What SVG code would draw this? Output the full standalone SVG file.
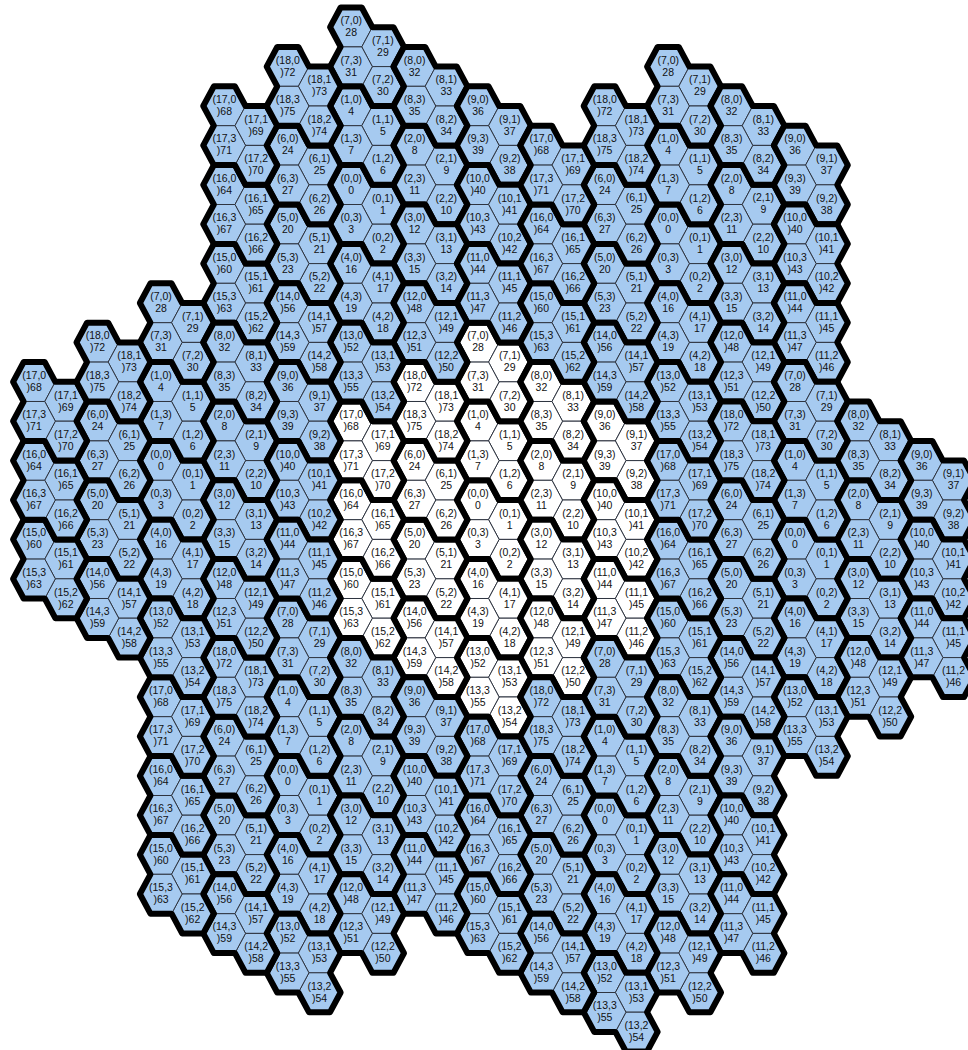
<svg xmlns="http://www.w3.org/2000/svg" xmlns:xlink="http://www.w3.org/1999/xlink" width="968" height="1050" viewBox="0 0 968 1050">
<style>
text{font-family:"Liberation Sans",Arial,sans-serif;font-size:10.5px;text-anchor:middle;fill:#111}
.w{fill:#ffffff}.b{fill:#a6caf0}
</style>
<defs>
<polygon id="h" points="-21.13,0 -10.57,-19.7 10.57,-19.7 21.13,0 10.57,19.7 -10.57,19.7" stroke="#2e3440" stroke-width="1"/>
<path id="o" d="M-21.13,0L-10.57,-19.7L10.57,-19.7L21.13,0L42.27,0L52.83,19.7L42.27,39.4L52.83,59.1L42.27,78.8L21.13,78.8L10.57,59.1L-10.57,59.1L-21.13,39.4L-10.57,19.7Z" fill="none" stroke="#000" stroke-width="6" stroke-linejoin="round"/>
</defs>
<rect width="968" height="1050" fill="#fff"/>
<g id="tile0" class="w" transform="translate(478 500)">
<g id="g0-0"><g id="n0-0-0"><use href="#h"/><text y="-3">(0,0)<tspan x="0" y="9">0</tspan></text></g><g id="n0-0-1" transform="translate(31.7 19.7)"><use href="#h"/><text y="-3">(0,1)<tspan x="0" y="9">1</tspan></text></g><g id="n0-0-2" transform="translate(31.7 59.1)"><use href="#h"/><text y="-3">(0,2)<tspan x="0" y="9">2</tspan></text></g><g id="n0-0-3" transform="translate(0 39.4)"><use href="#h"/><text y="-3">(0,3)<tspan x="0" y="9">3</tspan></text></g><use href="#o"/></g>
<g id="g0-1" transform="translate(0 -78.8)"><g id="n0-1-0"><use href="#h"/><text y="-3">(1,0)<tspan x="0" y="9">4</tspan></text></g><g id="n0-1-1" transform="translate(31.7 19.7)"><use href="#h"/><text y="-3">(1,1)<tspan x="0" y="9">5</tspan></text></g><g id="n0-1-2" transform="translate(31.7 59.1)"><use href="#h"/><text y="-3">(1,2)<tspan x="0" y="9">6</tspan></text></g><g id="n0-1-3" transform="translate(0 39.4)"><use href="#h"/><text y="-3">(1,3)<tspan x="0" y="9">7</tspan></text></g><use href="#o"/></g>
<g id="g0-2" transform="translate(63.4 -39.4)"><g id="n0-2-0"><use href="#h"/><text y="-3">(2,0)<tspan x="0" y="9">8</tspan></text></g><g id="n0-2-1" transform="translate(31.7 19.7)"><use href="#h"/><text y="-3">(2,1)<tspan x="0" y="9">9</tspan></text></g><g id="n0-2-2" transform="translate(31.7 59.1)"><use href="#h"/><text y="-3">(2,2)<tspan x="0" y="9">10</tspan></text></g><g id="n0-2-3" transform="translate(0 39.4)"><use href="#h"/><text y="-3">(2,3)<tspan x="0" y="9">11</tspan></text></g><use href="#o"/></g>
<g id="g0-3" transform="translate(63.4 39.4)"><g id="n0-3-0"><use href="#h"/><text y="-3">(3,0)<tspan x="0" y="9">12</tspan></text></g><g id="n0-3-1" transform="translate(31.7 19.7)"><use href="#h"/><text y="-3">(3,1)<tspan x="0" y="9">13</tspan></text></g><g id="n0-3-2" transform="translate(31.7 59.1)"><use href="#h"/><text y="-3">(3,2)<tspan x="0" y="9">14</tspan></text></g><g id="n0-3-3" transform="translate(0 39.4)"><use href="#h"/><text y="-3">(3,3)<tspan x="0" y="9">15</tspan></text></g><use href="#o"/></g>
<g id="g0-4" transform="translate(0 78.8)"><g id="n0-4-0"><use href="#h"/><text y="-3">(4,0)<tspan x="0" y="9">16</tspan></text></g><g id="n0-4-1" transform="translate(31.7 19.7)"><use href="#h"/><text y="-3">(4,1)<tspan x="0" y="9">17</tspan></text></g><g id="n0-4-2" transform="translate(31.7 59.1)"><use href="#h"/><text y="-3">(4,2)<tspan x="0" y="9">18</tspan></text></g><g id="n0-4-3" transform="translate(0 39.4)"><use href="#h"/><text y="-3">(4,3)<tspan x="0" y="9">19</tspan></text></g><use href="#o"/></g>
<g id="g0-5" transform="translate(-63.4 39.4)"><g id="n0-5-0"><use href="#h"/><text y="-3">(5,0)<tspan x="0" y="9">20</tspan></text></g><g id="n0-5-1" transform="translate(31.7 19.7)"><use href="#h"/><text y="-3">(5,1)<tspan x="0" y="9">21</tspan></text></g><g id="n0-5-2" transform="translate(31.7 59.1)"><use href="#h"/><text y="-3">(5,2)<tspan x="0" y="9">22</tspan></text></g><g id="n0-5-3" transform="translate(0 39.4)"><use href="#h"/><text y="-3">(5,3)<tspan x="0" y="9">23</tspan></text></g><use href="#o"/></g>
<g id="g0-6" transform="translate(-63.4 -39.4)"><g id="n0-6-0"><use href="#h"/><text y="-3">(6,0)<tspan x="0" y="9">24</tspan></text></g><g id="n0-6-1" transform="translate(31.7 19.7)"><use href="#h"/><text y="-3">(6,1)<tspan x="0" y="9">25</tspan></text></g><g id="n0-6-2" transform="translate(31.7 59.1)"><use href="#h"/><text y="-3">(6,2)<tspan x="0" y="9">26</tspan></text></g><g id="n0-6-3" transform="translate(0 39.4)"><use href="#h"/><text y="-3">(6,3)<tspan x="0" y="9">27</tspan></text></g><use href="#o"/></g>
<g id="g0-7" transform="translate(0 -157.6)"><g id="n0-7-0"><use href="#h"/><text y="-3">(7,0)<tspan x="0" y="9">28</tspan></text></g><g id="n0-7-1" transform="translate(31.7 19.7)"><use href="#h"/><text y="-3">(7,1)<tspan x="0" y="9">29</tspan></text></g><g id="n0-7-2" transform="translate(31.7 59.1)"><use href="#h"/><text y="-3">(7,2)<tspan x="0" y="9">30</tspan></text></g><g id="n0-7-3" transform="translate(0 39.4)"><use href="#h"/><text y="-3">(7,3)<tspan x="0" y="9">31</tspan></text></g><use href="#o"/></g>
<g id="g0-8" transform="translate(63.4 -118.2)"><g id="n0-8-0"><use href="#h"/><text y="-3">(8,0)<tspan x="0" y="9">32</tspan></text></g><g id="n0-8-1" transform="translate(31.7 19.7)"><use href="#h"/><text y="-3">(8,1)<tspan x="0" y="9">33</tspan></text></g><g id="n0-8-2" transform="translate(31.7 59.1)"><use href="#h"/><text y="-3">(8,2)<tspan x="0" y="9">34</tspan></text></g><g id="n0-8-3" transform="translate(0 39.4)"><use href="#h"/><text y="-3">(8,3)<tspan x="0" y="9">35</tspan></text></g><use href="#o"/></g>
<g id="g0-9" transform="translate(126.8 -78.8)"><g id="n0-9-0"><use href="#h"/><text y="-3">(9,0)<tspan x="0" y="9">36</tspan></text></g><g id="n0-9-1" transform="translate(31.7 19.7)"><use href="#h"/><text y="-3">(9,1)<tspan x="0" y="9">37</tspan></text></g><g id="n0-9-2" transform="translate(31.7 59.1)"><use href="#h"/><text y="-3">(9,2)<tspan x="0" y="9">38</tspan></text></g><g id="n0-9-3" transform="translate(0 39.4)"><use href="#h"/><text y="-3">(9,3)<tspan x="0" y="9">39</tspan></text></g><use href="#o"/></g>
<g id="g0-10" transform="translate(126.8 0)"><g id="n0-10-0"><use href="#h"/><text y="-3">(10,0<tspan x="0" y="9">)40</tspan></text></g><g id="n0-10-1" transform="translate(31.7 19.7)"><use href="#h"/><text y="-3">(10,1<tspan x="0" y="9">)41</tspan></text></g><g id="n0-10-2" transform="translate(31.7 59.1)"><use href="#h"/><text y="-3">(10,2<tspan x="0" y="9">)42</tspan></text></g><g id="n0-10-3" transform="translate(0 39.4)"><use href="#h"/><text y="-3">(10,3<tspan x="0" y="9">)43</tspan></text></g><use href="#o"/></g>
<g id="g0-11" transform="translate(126.8 78.8)"><g id="n0-11-0"><use href="#h"/><text y="-3">(11,0<tspan x="0" y="9">)44</tspan></text></g><g id="n0-11-1" transform="translate(31.7 19.7)"><use href="#h"/><text y="-3">(11,1<tspan x="0" y="9">)45</tspan></text></g><g id="n0-11-2" transform="translate(31.7 59.1)"><use href="#h"/><text y="-3">(11,2<tspan x="0" y="9">)46</tspan></text></g><g id="n0-11-3" transform="translate(0 39.4)"><use href="#h"/><text y="-3">(11,3<tspan x="0" y="9">)47</tspan></text></g><use href="#o"/></g>
<g id="g0-12" transform="translate(63.4 118.2)"><g id="n0-12-0"><use href="#h"/><text y="-3">(12,0<tspan x="0" y="9">)48</tspan></text></g><g id="n0-12-1" transform="translate(31.7 19.7)"><use href="#h"/><text y="-3">(12,1<tspan x="0" y="9">)49</tspan></text></g><g id="n0-12-2" transform="translate(31.7 59.1)"><use href="#h"/><text y="-3">(12,2<tspan x="0" y="9">)50</tspan></text></g><g id="n0-12-3" transform="translate(0 39.4)"><use href="#h"/><text y="-3">(12,3<tspan x="0" y="9">)51</tspan></text></g><use href="#o"/></g>
<g id="g0-13" transform="translate(0 157.6)"><g id="n0-13-0"><use href="#h"/><text y="-3">(13,0<tspan x="0" y="9">)52</tspan></text></g><g id="n0-13-1" transform="translate(31.7 19.7)"><use href="#h"/><text y="-3">(13,1<tspan x="0" y="9">)53</tspan></text></g><g id="n0-13-2" transform="translate(31.7 59.1)"><use href="#h"/><text y="-3">(13,2<tspan x="0" y="9">)54</tspan></text></g><g id="n0-13-3" transform="translate(0 39.4)"><use href="#h"/><text y="-3">(13,3<tspan x="0" y="9">)55</tspan></text></g><use href="#o"/></g>
<g id="g0-14" transform="translate(-63.4 118.2)"><g id="n0-14-0"><use href="#h"/><text y="-3">(14,0<tspan x="0" y="9">)56</tspan></text></g><g id="n0-14-1" transform="translate(31.7 19.7)"><use href="#h"/><text y="-3">(14,1<tspan x="0" y="9">)57</tspan></text></g><g id="n0-14-2" transform="translate(31.7 59.1)"><use href="#h"/><text y="-3">(14,2<tspan x="0" y="9">)58</tspan></text></g><g id="n0-14-3" transform="translate(0 39.4)"><use href="#h"/><text y="-3">(14,3<tspan x="0" y="9">)59</tspan></text></g><use href="#o"/></g>
<g id="g0-15" transform="translate(-126.8 78.8)"><g id="n0-15-0"><use href="#h"/><text y="-3">(15,0<tspan x="0" y="9">)60</tspan></text></g><g id="n0-15-1" transform="translate(31.7 19.7)"><use href="#h"/><text y="-3">(15,1<tspan x="0" y="9">)61</tspan></text></g><g id="n0-15-2" transform="translate(31.7 59.1)"><use href="#h"/><text y="-3">(15,2<tspan x="0" y="9">)62</tspan></text></g><g id="n0-15-3" transform="translate(0 39.4)"><use href="#h"/><text y="-3">(15,3<tspan x="0" y="9">)63</tspan></text></g><use href="#o"/></g>
<g id="g0-16" transform="translate(-126.8 0)"><g id="n0-16-0"><use href="#h"/><text y="-3">(16,0<tspan x="0" y="9">)64</tspan></text></g><g id="n0-16-1" transform="translate(31.7 19.7)"><use href="#h"/><text y="-3">(16,1<tspan x="0" y="9">)65</tspan></text></g><g id="n0-16-2" transform="translate(31.7 59.1)"><use href="#h"/><text y="-3">(16,2<tspan x="0" y="9">)66</tspan></text></g><g id="n0-16-3" transform="translate(0 39.4)"><use href="#h"/><text y="-3">(16,3<tspan x="0" y="9">)67</tspan></text></g><use href="#o"/></g>
<g id="g0-17" transform="translate(-126.8 -78.8)"><g id="n0-17-0"><use href="#h"/><text y="-3">(17,0<tspan x="0" y="9">)68</tspan></text></g><g id="n0-17-1" transform="translate(31.7 19.7)"><use href="#h"/><text y="-3">(17,1<tspan x="0" y="9">)69</tspan></text></g><g id="n0-17-2" transform="translate(31.7 59.1)"><use href="#h"/><text y="-3">(17,2<tspan x="0" y="9">)70</tspan></text></g><g id="n0-17-3" transform="translate(0 39.4)"><use href="#h"/><text y="-3">(17,3<tspan x="0" y="9">)71</tspan></text></g><use href="#o"/></g>
<g id="g0-18" transform="translate(-63.4 -118.2)"><g id="n0-18-0"><use href="#h"/><text y="-3">(18,0<tspan x="0" y="9">)72</tspan></text></g><g id="n0-18-1" transform="translate(31.7 19.7)"><use href="#h"/><text y="-3">(18,1<tspan x="0" y="9">)73</tspan></text></g><g id="n0-18-2" transform="translate(31.7 59.1)"><use href="#h"/><text y="-3">(18,2<tspan x="0" y="9">)74</tspan></text></g><g id="n0-18-3" transform="translate(0 39.4)"><use href="#h"/><text y="-3">(18,3<tspan x="0" y="9">)75</tspan></text></g><use href="#o"/></g>
</g>
<g id="tile1" class="b" transform="translate(351.2 184.8)">
<g id="g1-0"><g id="n1-0-0"><use href="#h"/><text y="-3">(0,0)<tspan x="0" y="9">0</tspan></text></g><g id="n1-0-1" transform="translate(31.7 19.7)"><use href="#h"/><text y="-3">(0,1)<tspan x="0" y="9">1</tspan></text></g><g id="n1-0-2" transform="translate(31.7 59.1)"><use href="#h"/><text y="-3">(0,2)<tspan x="0" y="9">2</tspan></text></g><g id="n1-0-3" transform="translate(0 39.4)"><use href="#h"/><text y="-3">(0,3)<tspan x="0" y="9">3</tspan></text></g><use href="#o"/></g>
<g id="g1-1" transform="translate(0 -78.8)"><g id="n1-1-0"><use href="#h"/><text y="-3">(1,0)<tspan x="0" y="9">4</tspan></text></g><g id="n1-1-1" transform="translate(31.7 19.7)"><use href="#h"/><text y="-3">(1,1)<tspan x="0" y="9">5</tspan></text></g><g id="n1-1-2" transform="translate(31.7 59.1)"><use href="#h"/><text y="-3">(1,2)<tspan x="0" y="9">6</tspan></text></g><g id="n1-1-3" transform="translate(0 39.4)"><use href="#h"/><text y="-3">(1,3)<tspan x="0" y="9">7</tspan></text></g><use href="#o"/></g>
<g id="g1-2" transform="translate(63.4 -39.4)"><g id="n1-2-0"><use href="#h"/><text y="-3">(2,0)<tspan x="0" y="9">8</tspan></text></g><g id="n1-2-1" transform="translate(31.7 19.7)"><use href="#h"/><text y="-3">(2,1)<tspan x="0" y="9">9</tspan></text></g><g id="n1-2-2" transform="translate(31.7 59.1)"><use href="#h"/><text y="-3">(2,2)<tspan x="0" y="9">10</tspan></text></g><g id="n1-2-3" transform="translate(0 39.4)"><use href="#h"/><text y="-3">(2,3)<tspan x="0" y="9">11</tspan></text></g><use href="#o"/></g>
<g id="g1-3" transform="translate(63.4 39.4)"><g id="n1-3-0"><use href="#h"/><text y="-3">(3,0)<tspan x="0" y="9">12</tspan></text></g><g id="n1-3-1" transform="translate(31.7 19.7)"><use href="#h"/><text y="-3">(3,1)<tspan x="0" y="9">13</tspan></text></g><g id="n1-3-2" transform="translate(31.7 59.1)"><use href="#h"/><text y="-3">(3,2)<tspan x="0" y="9">14</tspan></text></g><g id="n1-3-3" transform="translate(0 39.4)"><use href="#h"/><text y="-3">(3,3)<tspan x="0" y="9">15</tspan></text></g><use href="#o"/></g>
<g id="g1-4" transform="translate(0 78.8)"><g id="n1-4-0"><use href="#h"/><text y="-3">(4,0)<tspan x="0" y="9">16</tspan></text></g><g id="n1-4-1" transform="translate(31.7 19.7)"><use href="#h"/><text y="-3">(4,1)<tspan x="0" y="9">17</tspan></text></g><g id="n1-4-2" transform="translate(31.7 59.1)"><use href="#h"/><text y="-3">(4,2)<tspan x="0" y="9">18</tspan></text></g><g id="n1-4-3" transform="translate(0 39.4)"><use href="#h"/><text y="-3">(4,3)<tspan x="0" y="9">19</tspan></text></g><use href="#o"/></g>
<g id="g1-5" transform="translate(-63.4 39.4)"><g id="n1-5-0"><use href="#h"/><text y="-3">(5,0)<tspan x="0" y="9">20</tspan></text></g><g id="n1-5-1" transform="translate(31.7 19.7)"><use href="#h"/><text y="-3">(5,1)<tspan x="0" y="9">21</tspan></text></g><g id="n1-5-2" transform="translate(31.7 59.1)"><use href="#h"/><text y="-3">(5,2)<tspan x="0" y="9">22</tspan></text></g><g id="n1-5-3" transform="translate(0 39.4)"><use href="#h"/><text y="-3">(5,3)<tspan x="0" y="9">23</tspan></text></g><use href="#o"/></g>
<g id="g1-6" transform="translate(-63.4 -39.4)"><g id="n1-6-0"><use href="#h"/><text y="-3">(6,0)<tspan x="0" y="9">24</tspan></text></g><g id="n1-6-1" transform="translate(31.7 19.7)"><use href="#h"/><text y="-3">(6,1)<tspan x="0" y="9">25</tspan></text></g><g id="n1-6-2" transform="translate(31.7 59.1)"><use href="#h"/><text y="-3">(6,2)<tspan x="0" y="9">26</tspan></text></g><g id="n1-6-3" transform="translate(0 39.4)"><use href="#h"/><text y="-3">(6,3)<tspan x="0" y="9">27</tspan></text></g><use href="#o"/></g>
<g id="g1-7" transform="translate(0 -157.6)"><g id="n1-7-0"><use href="#h"/><text y="-3">(7,0)<tspan x="0" y="9">28</tspan></text></g><g id="n1-7-1" transform="translate(31.7 19.7)"><use href="#h"/><text y="-3">(7,1)<tspan x="0" y="9">29</tspan></text></g><g id="n1-7-2" transform="translate(31.7 59.1)"><use href="#h"/><text y="-3">(7,2)<tspan x="0" y="9">30</tspan></text></g><g id="n1-7-3" transform="translate(0 39.4)"><use href="#h"/><text y="-3">(7,3)<tspan x="0" y="9">31</tspan></text></g><use href="#o"/></g>
<g id="g1-8" transform="translate(63.4 -118.2)"><g id="n1-8-0"><use href="#h"/><text y="-3">(8,0)<tspan x="0" y="9">32</tspan></text></g><g id="n1-8-1" transform="translate(31.7 19.7)"><use href="#h"/><text y="-3">(8,1)<tspan x="0" y="9">33</tspan></text></g><g id="n1-8-2" transform="translate(31.7 59.1)"><use href="#h"/><text y="-3">(8,2)<tspan x="0" y="9">34</tspan></text></g><g id="n1-8-3" transform="translate(0 39.4)"><use href="#h"/><text y="-3">(8,3)<tspan x="0" y="9">35</tspan></text></g><use href="#o"/></g>
<g id="g1-9" transform="translate(126.8 -78.8)"><g id="n1-9-0"><use href="#h"/><text y="-3">(9,0)<tspan x="0" y="9">36</tspan></text></g><g id="n1-9-1" transform="translate(31.7 19.7)"><use href="#h"/><text y="-3">(9,1)<tspan x="0" y="9">37</tspan></text></g><g id="n1-9-2" transform="translate(31.7 59.1)"><use href="#h"/><text y="-3">(9,2)<tspan x="0" y="9">38</tspan></text></g><g id="n1-9-3" transform="translate(0 39.4)"><use href="#h"/><text y="-3">(9,3)<tspan x="0" y="9">39</tspan></text></g><use href="#o"/></g>
<g id="g1-10" transform="translate(126.8 0)"><g id="n1-10-0"><use href="#h"/><text y="-3">(10,0<tspan x="0" y="9">)40</tspan></text></g><g id="n1-10-1" transform="translate(31.7 19.7)"><use href="#h"/><text y="-3">(10,1<tspan x="0" y="9">)41</tspan></text></g><g id="n1-10-2" transform="translate(31.7 59.1)"><use href="#h"/><text y="-3">(10,2<tspan x="0" y="9">)42</tspan></text></g><g id="n1-10-3" transform="translate(0 39.4)"><use href="#h"/><text y="-3">(10,3<tspan x="0" y="9">)43</tspan></text></g><use href="#o"/></g>
<g id="g1-11" transform="translate(126.8 78.8)"><g id="n1-11-0"><use href="#h"/><text y="-3">(11,0<tspan x="0" y="9">)44</tspan></text></g><g id="n1-11-1" transform="translate(31.7 19.7)"><use href="#h"/><text y="-3">(11,1<tspan x="0" y="9">)45</tspan></text></g><g id="n1-11-2" transform="translate(31.7 59.1)"><use href="#h"/><text y="-3">(11,2<tspan x="0" y="9">)46</tspan></text></g><g id="n1-11-3" transform="translate(0 39.4)"><use href="#h"/><text y="-3">(11,3<tspan x="0" y="9">)47</tspan></text></g><use href="#o"/></g>
<g id="g1-12" transform="translate(63.4 118.2)"><g id="n1-12-0"><use href="#h"/><text y="-3">(12,0<tspan x="0" y="9">)48</tspan></text></g><g id="n1-12-1" transform="translate(31.7 19.7)"><use href="#h"/><text y="-3">(12,1<tspan x="0" y="9">)49</tspan></text></g><g id="n1-12-2" transform="translate(31.7 59.1)"><use href="#h"/><text y="-3">(12,2<tspan x="0" y="9">)50</tspan></text></g><g id="n1-12-3" transform="translate(0 39.4)"><use href="#h"/><text y="-3">(12,3<tspan x="0" y="9">)51</tspan></text></g><use href="#o"/></g>
<g id="g1-13" transform="translate(0 157.6)"><g id="n1-13-0"><use href="#h"/><text y="-3">(13,0<tspan x="0" y="9">)52</tspan></text></g><g id="n1-13-1" transform="translate(31.7 19.7)"><use href="#h"/><text y="-3">(13,1<tspan x="0" y="9">)53</tspan></text></g><g id="n1-13-2" transform="translate(31.7 59.1)"><use href="#h"/><text y="-3">(13,2<tspan x="0" y="9">)54</tspan></text></g><g id="n1-13-3" transform="translate(0 39.4)"><use href="#h"/><text y="-3">(13,3<tspan x="0" y="9">)55</tspan></text></g><use href="#o"/></g>
<g id="g1-14" transform="translate(-63.4 118.2)"><g id="n1-14-0"><use href="#h"/><text y="-3">(14,0<tspan x="0" y="9">)56</tspan></text></g><g id="n1-14-1" transform="translate(31.7 19.7)"><use href="#h"/><text y="-3">(14,1<tspan x="0" y="9">)57</tspan></text></g><g id="n1-14-2" transform="translate(31.7 59.1)"><use href="#h"/><text y="-3">(14,2<tspan x="0" y="9">)58</tspan></text></g><g id="n1-14-3" transform="translate(0 39.4)"><use href="#h"/><text y="-3">(14,3<tspan x="0" y="9">)59</tspan></text></g><use href="#o"/></g>
<g id="g1-15" transform="translate(-126.8 78.8)"><g id="n1-15-0"><use href="#h"/><text y="-3">(15,0<tspan x="0" y="9">)60</tspan></text></g><g id="n1-15-1" transform="translate(31.7 19.7)"><use href="#h"/><text y="-3">(15,1<tspan x="0" y="9">)61</tspan></text></g><g id="n1-15-2" transform="translate(31.7 59.1)"><use href="#h"/><text y="-3">(15,2<tspan x="0" y="9">)62</tspan></text></g><g id="n1-15-3" transform="translate(0 39.4)"><use href="#h"/><text y="-3">(15,3<tspan x="0" y="9">)63</tspan></text></g><use href="#o"/></g>
<g id="g1-16" transform="translate(-126.8 0)"><g id="n1-16-0"><use href="#h"/><text y="-3">(16,0<tspan x="0" y="9">)64</tspan></text></g><g id="n1-16-1" transform="translate(31.7 19.7)"><use href="#h"/><text y="-3">(16,1<tspan x="0" y="9">)65</tspan></text></g><g id="n1-16-2" transform="translate(31.7 59.1)"><use href="#h"/><text y="-3">(16,2<tspan x="0" y="9">)66</tspan></text></g><g id="n1-16-3" transform="translate(0 39.4)"><use href="#h"/><text y="-3">(16,3<tspan x="0" y="9">)67</tspan></text></g><use href="#o"/></g>
<g id="g1-17" transform="translate(-126.8 -78.8)"><g id="n1-17-0"><use href="#h"/><text y="-3">(17,0<tspan x="0" y="9">)68</tspan></text></g><g id="n1-17-1" transform="translate(31.7 19.7)"><use href="#h"/><text y="-3">(17,1<tspan x="0" y="9">)69</tspan></text></g><g id="n1-17-2" transform="translate(31.7 59.1)"><use href="#h"/><text y="-3">(17,2<tspan x="0" y="9">)70</tspan></text></g><g id="n1-17-3" transform="translate(0 39.4)"><use href="#h"/><text y="-3">(17,3<tspan x="0" y="9">)71</tspan></text></g><use href="#o"/></g>
<g id="g1-18" transform="translate(-63.4 -118.2)"><g id="n1-18-0"><use href="#h"/><text y="-3">(18,0<tspan x="0" y="9">)72</tspan></text></g><g id="n1-18-1" transform="translate(31.7 19.7)"><use href="#h"/><text y="-3">(18,1<tspan x="0" y="9">)73</tspan></text></g><g id="n1-18-2" transform="translate(31.7 59.1)"><use href="#h"/><text y="-3">(18,2<tspan x="0" y="9">)74</tspan></text></g><g id="n1-18-3" transform="translate(0 39.4)"><use href="#h"/><text y="-3">(18,3<tspan x="0" y="9">)75</tspan></text></g><use href="#o"/></g>
</g>
<g id="tile2" class="b" transform="translate(668.2 224.2)">
<g id="g2-0"><g id="n2-0-0"><use href="#h"/><text y="-3">(0,0)<tspan x="0" y="9">0</tspan></text></g><g id="n2-0-1" transform="translate(31.7 19.7)"><use href="#h"/><text y="-3">(0,1)<tspan x="0" y="9">1</tspan></text></g><g id="n2-0-2" transform="translate(31.7 59.1)"><use href="#h"/><text y="-3">(0,2)<tspan x="0" y="9">2</tspan></text></g><g id="n2-0-3" transform="translate(0 39.4)"><use href="#h"/><text y="-3">(0,3)<tspan x="0" y="9">3</tspan></text></g><use href="#o"/></g>
<g id="g2-1" transform="translate(0 -78.8)"><g id="n2-1-0"><use href="#h"/><text y="-3">(1,0)<tspan x="0" y="9">4</tspan></text></g><g id="n2-1-1" transform="translate(31.7 19.7)"><use href="#h"/><text y="-3">(1,1)<tspan x="0" y="9">5</tspan></text></g><g id="n2-1-2" transform="translate(31.7 59.1)"><use href="#h"/><text y="-3">(1,2)<tspan x="0" y="9">6</tspan></text></g><g id="n2-1-3" transform="translate(0 39.4)"><use href="#h"/><text y="-3">(1,3)<tspan x="0" y="9">7</tspan></text></g><use href="#o"/></g>
<g id="g2-2" transform="translate(63.4 -39.4)"><g id="n2-2-0"><use href="#h"/><text y="-3">(2,0)<tspan x="0" y="9">8</tspan></text></g><g id="n2-2-1" transform="translate(31.7 19.7)"><use href="#h"/><text y="-3">(2,1)<tspan x="0" y="9">9</tspan></text></g><g id="n2-2-2" transform="translate(31.7 59.1)"><use href="#h"/><text y="-3">(2,2)<tspan x="0" y="9">10</tspan></text></g><g id="n2-2-3" transform="translate(0 39.4)"><use href="#h"/><text y="-3">(2,3)<tspan x="0" y="9">11</tspan></text></g><use href="#o"/></g>
<g id="g2-3" transform="translate(63.4 39.4)"><g id="n2-3-0"><use href="#h"/><text y="-3">(3,0)<tspan x="0" y="9">12</tspan></text></g><g id="n2-3-1" transform="translate(31.7 19.7)"><use href="#h"/><text y="-3">(3,1)<tspan x="0" y="9">13</tspan></text></g><g id="n2-3-2" transform="translate(31.7 59.1)"><use href="#h"/><text y="-3">(3,2)<tspan x="0" y="9">14</tspan></text></g><g id="n2-3-3" transform="translate(0 39.4)"><use href="#h"/><text y="-3">(3,3)<tspan x="0" y="9">15</tspan></text></g><use href="#o"/></g>
<g id="g2-4" transform="translate(0 78.8)"><g id="n2-4-0"><use href="#h"/><text y="-3">(4,0)<tspan x="0" y="9">16</tspan></text></g><g id="n2-4-1" transform="translate(31.7 19.7)"><use href="#h"/><text y="-3">(4,1)<tspan x="0" y="9">17</tspan></text></g><g id="n2-4-2" transform="translate(31.7 59.1)"><use href="#h"/><text y="-3">(4,2)<tspan x="0" y="9">18</tspan></text></g><g id="n2-4-3" transform="translate(0 39.4)"><use href="#h"/><text y="-3">(4,3)<tspan x="0" y="9">19</tspan></text></g><use href="#o"/></g>
<g id="g2-5" transform="translate(-63.4 39.4)"><g id="n2-5-0"><use href="#h"/><text y="-3">(5,0)<tspan x="0" y="9">20</tspan></text></g><g id="n2-5-1" transform="translate(31.7 19.7)"><use href="#h"/><text y="-3">(5,1)<tspan x="0" y="9">21</tspan></text></g><g id="n2-5-2" transform="translate(31.7 59.1)"><use href="#h"/><text y="-3">(5,2)<tspan x="0" y="9">22</tspan></text></g><g id="n2-5-3" transform="translate(0 39.4)"><use href="#h"/><text y="-3">(5,3)<tspan x="0" y="9">23</tspan></text></g><use href="#o"/></g>
<g id="g2-6" transform="translate(-63.4 -39.4)"><g id="n2-6-0"><use href="#h"/><text y="-3">(6,0)<tspan x="0" y="9">24</tspan></text></g><g id="n2-6-1" transform="translate(31.7 19.7)"><use href="#h"/><text y="-3">(6,1)<tspan x="0" y="9">25</tspan></text></g><g id="n2-6-2" transform="translate(31.7 59.1)"><use href="#h"/><text y="-3">(6,2)<tspan x="0" y="9">26</tspan></text></g><g id="n2-6-3" transform="translate(0 39.4)"><use href="#h"/><text y="-3">(6,3)<tspan x="0" y="9">27</tspan></text></g><use href="#o"/></g>
<g id="g2-7" transform="translate(0 -157.6)"><g id="n2-7-0"><use href="#h"/><text y="-3">(7,0)<tspan x="0" y="9">28</tspan></text></g><g id="n2-7-1" transform="translate(31.7 19.7)"><use href="#h"/><text y="-3">(7,1)<tspan x="0" y="9">29</tspan></text></g><g id="n2-7-2" transform="translate(31.7 59.1)"><use href="#h"/><text y="-3">(7,2)<tspan x="0" y="9">30</tspan></text></g><g id="n2-7-3" transform="translate(0 39.4)"><use href="#h"/><text y="-3">(7,3)<tspan x="0" y="9">31</tspan></text></g><use href="#o"/></g>
<g id="g2-8" transform="translate(63.4 -118.2)"><g id="n2-8-0"><use href="#h"/><text y="-3">(8,0)<tspan x="0" y="9">32</tspan></text></g><g id="n2-8-1" transform="translate(31.7 19.7)"><use href="#h"/><text y="-3">(8,1)<tspan x="0" y="9">33</tspan></text></g><g id="n2-8-2" transform="translate(31.7 59.1)"><use href="#h"/><text y="-3">(8,2)<tspan x="0" y="9">34</tspan></text></g><g id="n2-8-3" transform="translate(0 39.4)"><use href="#h"/><text y="-3">(8,3)<tspan x="0" y="9">35</tspan></text></g><use href="#o"/></g>
<g id="g2-9" transform="translate(126.8 -78.8)"><g id="n2-9-0"><use href="#h"/><text y="-3">(9,0)<tspan x="0" y="9">36</tspan></text></g><g id="n2-9-1" transform="translate(31.7 19.7)"><use href="#h"/><text y="-3">(9,1)<tspan x="0" y="9">37</tspan></text></g><g id="n2-9-2" transform="translate(31.7 59.1)"><use href="#h"/><text y="-3">(9,2)<tspan x="0" y="9">38</tspan></text></g><g id="n2-9-3" transform="translate(0 39.4)"><use href="#h"/><text y="-3">(9,3)<tspan x="0" y="9">39</tspan></text></g><use href="#o"/></g>
<g id="g2-10" transform="translate(126.8 0)"><g id="n2-10-0"><use href="#h"/><text y="-3">(10,0<tspan x="0" y="9">)40</tspan></text></g><g id="n2-10-1" transform="translate(31.7 19.7)"><use href="#h"/><text y="-3">(10,1<tspan x="0" y="9">)41</tspan></text></g><g id="n2-10-2" transform="translate(31.7 59.1)"><use href="#h"/><text y="-3">(10,2<tspan x="0" y="9">)42</tspan></text></g><g id="n2-10-3" transform="translate(0 39.4)"><use href="#h"/><text y="-3">(10,3<tspan x="0" y="9">)43</tspan></text></g><use href="#o"/></g>
<g id="g2-11" transform="translate(126.8 78.8)"><g id="n2-11-0"><use href="#h"/><text y="-3">(11,0<tspan x="0" y="9">)44</tspan></text></g><g id="n2-11-1" transform="translate(31.7 19.7)"><use href="#h"/><text y="-3">(11,1<tspan x="0" y="9">)45</tspan></text></g><g id="n2-11-2" transform="translate(31.7 59.1)"><use href="#h"/><text y="-3">(11,2<tspan x="0" y="9">)46</tspan></text></g><g id="n2-11-3" transform="translate(0 39.4)"><use href="#h"/><text y="-3">(11,3<tspan x="0" y="9">)47</tspan></text></g><use href="#o"/></g>
<g id="g2-12" transform="translate(63.4 118.2)"><g id="n2-12-0"><use href="#h"/><text y="-3">(12,0<tspan x="0" y="9">)48</tspan></text></g><g id="n2-12-1" transform="translate(31.7 19.7)"><use href="#h"/><text y="-3">(12,1<tspan x="0" y="9">)49</tspan></text></g><g id="n2-12-2" transform="translate(31.7 59.1)"><use href="#h"/><text y="-3">(12,2<tspan x="0" y="9">)50</tspan></text></g><g id="n2-12-3" transform="translate(0 39.4)"><use href="#h"/><text y="-3">(12,3<tspan x="0" y="9">)51</tspan></text></g><use href="#o"/></g>
<g id="g2-13" transform="translate(0 157.6)"><g id="n2-13-0"><use href="#h"/><text y="-3">(13,0<tspan x="0" y="9">)52</tspan></text></g><g id="n2-13-1" transform="translate(31.7 19.7)"><use href="#h"/><text y="-3">(13,1<tspan x="0" y="9">)53</tspan></text></g><g id="n2-13-2" transform="translate(31.7 59.1)"><use href="#h"/><text y="-3">(13,2<tspan x="0" y="9">)54</tspan></text></g><g id="n2-13-3" transform="translate(0 39.4)"><use href="#h"/><text y="-3">(13,3<tspan x="0" y="9">)55</tspan></text></g><use href="#o"/></g>
<g id="g2-14" transform="translate(-63.4 118.2)"><g id="n2-14-0"><use href="#h"/><text y="-3">(14,0<tspan x="0" y="9">)56</tspan></text></g><g id="n2-14-1" transform="translate(31.7 19.7)"><use href="#h"/><text y="-3">(14,1<tspan x="0" y="9">)57</tspan></text></g><g id="n2-14-2" transform="translate(31.7 59.1)"><use href="#h"/><text y="-3">(14,2<tspan x="0" y="9">)58</tspan></text></g><g id="n2-14-3" transform="translate(0 39.4)"><use href="#h"/><text y="-3">(14,3<tspan x="0" y="9">)59</tspan></text></g><use href="#o"/></g>
<g id="g2-15" transform="translate(-126.8 78.8)"><g id="n2-15-0"><use href="#h"/><text y="-3">(15,0<tspan x="0" y="9">)60</tspan></text></g><g id="n2-15-1" transform="translate(31.7 19.7)"><use href="#h"/><text y="-3">(15,1<tspan x="0" y="9">)61</tspan></text></g><g id="n2-15-2" transform="translate(31.7 59.1)"><use href="#h"/><text y="-3">(15,2<tspan x="0" y="9">)62</tspan></text></g><g id="n2-15-3" transform="translate(0 39.4)"><use href="#h"/><text y="-3">(15,3<tspan x="0" y="9">)63</tspan></text></g><use href="#o"/></g>
<g id="g2-16" transform="translate(-126.8 0)"><g id="n2-16-0"><use href="#h"/><text y="-3">(16,0<tspan x="0" y="9">)64</tspan></text></g><g id="n2-16-1" transform="translate(31.7 19.7)"><use href="#h"/><text y="-3">(16,1<tspan x="0" y="9">)65</tspan></text></g><g id="n2-16-2" transform="translate(31.7 59.1)"><use href="#h"/><text y="-3">(16,2<tspan x="0" y="9">)66</tspan></text></g><g id="n2-16-3" transform="translate(0 39.4)"><use href="#h"/><text y="-3">(16,3<tspan x="0" y="9">)67</tspan></text></g><use href="#o"/></g>
<g id="g2-17" transform="translate(-126.8 -78.8)"><g id="n2-17-0"><use href="#h"/><text y="-3">(17,0<tspan x="0" y="9">)68</tspan></text></g><g id="n2-17-1" transform="translate(31.7 19.7)"><use href="#h"/><text y="-3">(17,1<tspan x="0" y="9">)69</tspan></text></g><g id="n2-17-2" transform="translate(31.7 59.1)"><use href="#h"/><text y="-3">(17,2<tspan x="0" y="9">)70</tspan></text></g><g id="n2-17-3" transform="translate(0 39.4)"><use href="#h"/><text y="-3">(17,3<tspan x="0" y="9">)71</tspan></text></g><use href="#o"/></g>
<g id="g2-18" transform="translate(-63.4 -118.2)"><g id="n2-18-0"><use href="#h"/><text y="-3">(18,0<tspan x="0" y="9">)72</tspan></text></g><g id="n2-18-1" transform="translate(31.7 19.7)"><use href="#h"/><text y="-3">(18,1<tspan x="0" y="9">)73</tspan></text></g><g id="n2-18-2" transform="translate(31.7 59.1)"><use href="#h"/><text y="-3">(18,2<tspan x="0" y="9">)74</tspan></text></g><g id="n2-18-3" transform="translate(0 39.4)"><use href="#h"/><text y="-3">(18,3<tspan x="0" y="9">)75</tspan></text></g><use href="#o"/></g>
</g>
<g id="tile3" class="b" transform="translate(795 539.4)">
<g id="g3-0"><g id="n3-0-0"><use href="#h"/><text y="-3">(0,0)<tspan x="0" y="9">0</tspan></text></g><g id="n3-0-1" transform="translate(31.7 19.7)"><use href="#h"/><text y="-3">(0,1)<tspan x="0" y="9">1</tspan></text></g><g id="n3-0-2" transform="translate(31.7 59.1)"><use href="#h"/><text y="-3">(0,2)<tspan x="0" y="9">2</tspan></text></g><g id="n3-0-3" transform="translate(0 39.4)"><use href="#h"/><text y="-3">(0,3)<tspan x="0" y="9">3</tspan></text></g><use href="#o"/></g>
<g id="g3-1" transform="translate(0 -78.8)"><g id="n3-1-0"><use href="#h"/><text y="-3">(1,0)<tspan x="0" y="9">4</tspan></text></g><g id="n3-1-1" transform="translate(31.7 19.7)"><use href="#h"/><text y="-3">(1,1)<tspan x="0" y="9">5</tspan></text></g><g id="n3-1-2" transform="translate(31.7 59.1)"><use href="#h"/><text y="-3">(1,2)<tspan x="0" y="9">6</tspan></text></g><g id="n3-1-3" transform="translate(0 39.4)"><use href="#h"/><text y="-3">(1,3)<tspan x="0" y="9">7</tspan></text></g><use href="#o"/></g>
<g id="g3-2" transform="translate(63.4 -39.4)"><g id="n3-2-0"><use href="#h"/><text y="-3">(2,0)<tspan x="0" y="9">8</tspan></text></g><g id="n3-2-1" transform="translate(31.7 19.7)"><use href="#h"/><text y="-3">(2,1)<tspan x="0" y="9">9</tspan></text></g><g id="n3-2-2" transform="translate(31.7 59.1)"><use href="#h"/><text y="-3">(2,2)<tspan x="0" y="9">10</tspan></text></g><g id="n3-2-3" transform="translate(0 39.4)"><use href="#h"/><text y="-3">(2,3)<tspan x="0" y="9">11</tspan></text></g><use href="#o"/></g>
<g id="g3-3" transform="translate(63.4 39.4)"><g id="n3-3-0"><use href="#h"/><text y="-3">(3,0)<tspan x="0" y="9">12</tspan></text></g><g id="n3-3-1" transform="translate(31.7 19.7)"><use href="#h"/><text y="-3">(3,1)<tspan x="0" y="9">13</tspan></text></g><g id="n3-3-2" transform="translate(31.7 59.1)"><use href="#h"/><text y="-3">(3,2)<tspan x="0" y="9">14</tspan></text></g><g id="n3-3-3" transform="translate(0 39.4)"><use href="#h"/><text y="-3">(3,3)<tspan x="0" y="9">15</tspan></text></g><use href="#o"/></g>
<g id="g3-4" transform="translate(0 78.8)"><g id="n3-4-0"><use href="#h"/><text y="-3">(4,0)<tspan x="0" y="9">16</tspan></text></g><g id="n3-4-1" transform="translate(31.7 19.7)"><use href="#h"/><text y="-3">(4,1)<tspan x="0" y="9">17</tspan></text></g><g id="n3-4-2" transform="translate(31.7 59.1)"><use href="#h"/><text y="-3">(4,2)<tspan x="0" y="9">18</tspan></text></g><g id="n3-4-3" transform="translate(0 39.4)"><use href="#h"/><text y="-3">(4,3)<tspan x="0" y="9">19</tspan></text></g><use href="#o"/></g>
<g id="g3-5" transform="translate(-63.4 39.4)"><g id="n3-5-0"><use href="#h"/><text y="-3">(5,0)<tspan x="0" y="9">20</tspan></text></g><g id="n3-5-1" transform="translate(31.7 19.7)"><use href="#h"/><text y="-3">(5,1)<tspan x="0" y="9">21</tspan></text></g><g id="n3-5-2" transform="translate(31.7 59.1)"><use href="#h"/><text y="-3">(5,2)<tspan x="0" y="9">22</tspan></text></g><g id="n3-5-3" transform="translate(0 39.4)"><use href="#h"/><text y="-3">(5,3)<tspan x="0" y="9">23</tspan></text></g><use href="#o"/></g>
<g id="g3-6" transform="translate(-63.4 -39.4)"><g id="n3-6-0"><use href="#h"/><text y="-3">(6,0)<tspan x="0" y="9">24</tspan></text></g><g id="n3-6-1" transform="translate(31.7 19.7)"><use href="#h"/><text y="-3">(6,1)<tspan x="0" y="9">25</tspan></text></g><g id="n3-6-2" transform="translate(31.7 59.1)"><use href="#h"/><text y="-3">(6,2)<tspan x="0" y="9">26</tspan></text></g><g id="n3-6-3" transform="translate(0 39.4)"><use href="#h"/><text y="-3">(6,3)<tspan x="0" y="9">27</tspan></text></g><use href="#o"/></g>
<g id="g3-7" transform="translate(0 -157.6)"><g id="n3-7-0"><use href="#h"/><text y="-3">(7,0)<tspan x="0" y="9">28</tspan></text></g><g id="n3-7-1" transform="translate(31.7 19.7)"><use href="#h"/><text y="-3">(7,1)<tspan x="0" y="9">29</tspan></text></g><g id="n3-7-2" transform="translate(31.7 59.1)"><use href="#h"/><text y="-3">(7,2)<tspan x="0" y="9">30</tspan></text></g><g id="n3-7-3" transform="translate(0 39.4)"><use href="#h"/><text y="-3">(7,3)<tspan x="0" y="9">31</tspan></text></g><use href="#o"/></g>
<g id="g3-8" transform="translate(63.4 -118.2)"><g id="n3-8-0"><use href="#h"/><text y="-3">(8,0)<tspan x="0" y="9">32</tspan></text></g><g id="n3-8-1" transform="translate(31.7 19.7)"><use href="#h"/><text y="-3">(8,1)<tspan x="0" y="9">33</tspan></text></g><g id="n3-8-2" transform="translate(31.7 59.1)"><use href="#h"/><text y="-3">(8,2)<tspan x="0" y="9">34</tspan></text></g><g id="n3-8-3" transform="translate(0 39.4)"><use href="#h"/><text y="-3">(8,3)<tspan x="0" y="9">35</tspan></text></g><use href="#o"/></g>
<g id="g3-9" transform="translate(126.8 -78.8)"><g id="n3-9-0"><use href="#h"/><text y="-3">(9,0)<tspan x="0" y="9">36</tspan></text></g><g id="n3-9-1" transform="translate(31.7 19.7)"><use href="#h"/><text y="-3">(9,1)<tspan x="0" y="9">37</tspan></text></g><g id="n3-9-2" transform="translate(31.7 59.1)"><use href="#h"/><text y="-3">(9,2)<tspan x="0" y="9">38</tspan></text></g><g id="n3-9-3" transform="translate(0 39.4)"><use href="#h"/><text y="-3">(9,3)<tspan x="0" y="9">39</tspan></text></g><use href="#o"/></g>
<g id="g3-10" transform="translate(126.8 0)"><g id="n3-10-0"><use href="#h"/><text y="-3">(10,0<tspan x="0" y="9">)40</tspan></text></g><g id="n3-10-1" transform="translate(31.7 19.7)"><use href="#h"/><text y="-3">(10,1<tspan x="0" y="9">)41</tspan></text></g><g id="n3-10-2" transform="translate(31.7 59.1)"><use href="#h"/><text y="-3">(10,2<tspan x="0" y="9">)42</tspan></text></g><g id="n3-10-3" transform="translate(0 39.4)"><use href="#h"/><text y="-3">(10,3<tspan x="0" y="9">)43</tspan></text></g><use href="#o"/></g>
<g id="g3-11" transform="translate(126.8 78.8)"><g id="n3-11-0"><use href="#h"/><text y="-3">(11,0<tspan x="0" y="9">)44</tspan></text></g><g id="n3-11-1" transform="translate(31.7 19.7)"><use href="#h"/><text y="-3">(11,1<tspan x="0" y="9">)45</tspan></text></g><g id="n3-11-2" transform="translate(31.7 59.1)"><use href="#h"/><text y="-3">(11,2<tspan x="0" y="9">)46</tspan></text></g><g id="n3-11-3" transform="translate(0 39.4)"><use href="#h"/><text y="-3">(11,3<tspan x="0" y="9">)47</tspan></text></g><use href="#o"/></g>
<g id="g3-12" transform="translate(63.4 118.2)"><g id="n3-12-0"><use href="#h"/><text y="-3">(12,0<tspan x="0" y="9">)48</tspan></text></g><g id="n3-12-1" transform="translate(31.7 19.7)"><use href="#h"/><text y="-3">(12,1<tspan x="0" y="9">)49</tspan></text></g><g id="n3-12-2" transform="translate(31.7 59.1)"><use href="#h"/><text y="-3">(12,2<tspan x="0" y="9">)50</tspan></text></g><g id="n3-12-3" transform="translate(0 39.4)"><use href="#h"/><text y="-3">(12,3<tspan x="0" y="9">)51</tspan></text></g><use href="#o"/></g>
<g id="g3-13" transform="translate(0 157.6)"><g id="n3-13-0"><use href="#h"/><text y="-3">(13,0<tspan x="0" y="9">)52</tspan></text></g><g id="n3-13-1" transform="translate(31.7 19.7)"><use href="#h"/><text y="-3">(13,1<tspan x="0" y="9">)53</tspan></text></g><g id="n3-13-2" transform="translate(31.7 59.1)"><use href="#h"/><text y="-3">(13,2<tspan x="0" y="9">)54</tspan></text></g><g id="n3-13-3" transform="translate(0 39.4)"><use href="#h"/><text y="-3">(13,3<tspan x="0" y="9">)55</tspan></text></g><use href="#o"/></g>
<g id="g3-14" transform="translate(-63.4 118.2)"><g id="n3-14-0"><use href="#h"/><text y="-3">(14,0<tspan x="0" y="9">)56</tspan></text></g><g id="n3-14-1" transform="translate(31.7 19.7)"><use href="#h"/><text y="-3">(14,1<tspan x="0" y="9">)57</tspan></text></g><g id="n3-14-2" transform="translate(31.7 59.1)"><use href="#h"/><text y="-3">(14,2<tspan x="0" y="9">)58</tspan></text></g><g id="n3-14-3" transform="translate(0 39.4)"><use href="#h"/><text y="-3">(14,3<tspan x="0" y="9">)59</tspan></text></g><use href="#o"/></g>
<g id="g3-15" transform="translate(-126.8 78.8)"><g id="n3-15-0"><use href="#h"/><text y="-3">(15,0<tspan x="0" y="9">)60</tspan></text></g><g id="n3-15-1" transform="translate(31.7 19.7)"><use href="#h"/><text y="-3">(15,1<tspan x="0" y="9">)61</tspan></text></g><g id="n3-15-2" transform="translate(31.7 59.1)"><use href="#h"/><text y="-3">(15,2<tspan x="0" y="9">)62</tspan></text></g><g id="n3-15-3" transform="translate(0 39.4)"><use href="#h"/><text y="-3">(15,3<tspan x="0" y="9">)63</tspan></text></g><use href="#o"/></g>
<g id="g3-16" transform="translate(-126.8 0)"><g id="n3-16-0"><use href="#h"/><text y="-3">(16,0<tspan x="0" y="9">)64</tspan></text></g><g id="n3-16-1" transform="translate(31.7 19.7)"><use href="#h"/><text y="-3">(16,1<tspan x="0" y="9">)65</tspan></text></g><g id="n3-16-2" transform="translate(31.7 59.1)"><use href="#h"/><text y="-3">(16,2<tspan x="0" y="9">)66</tspan></text></g><g id="n3-16-3" transform="translate(0 39.4)"><use href="#h"/><text y="-3">(16,3<tspan x="0" y="9">)67</tspan></text></g><use href="#o"/></g>
<g id="g3-17" transform="translate(-126.8 -78.8)"><g id="n3-17-0"><use href="#h"/><text y="-3">(17,0<tspan x="0" y="9">)68</tspan></text></g><g id="n3-17-1" transform="translate(31.7 19.7)"><use href="#h"/><text y="-3">(17,1<tspan x="0" y="9">)69</tspan></text></g><g id="n3-17-2" transform="translate(31.7 59.1)"><use href="#h"/><text y="-3">(17,2<tspan x="0" y="9">)70</tspan></text></g><g id="n3-17-3" transform="translate(0 39.4)"><use href="#h"/><text y="-3">(17,3<tspan x="0" y="9">)71</tspan></text></g><use href="#o"/></g>
<g id="g3-18" transform="translate(-63.4 -118.2)"><g id="n3-18-0"><use href="#h"/><text y="-3">(18,0<tspan x="0" y="9">)72</tspan></text></g><g id="n3-18-1" transform="translate(31.7 19.7)"><use href="#h"/><text y="-3">(18,1<tspan x="0" y="9">)73</tspan></text></g><g id="n3-18-2" transform="translate(31.7 59.1)"><use href="#h"/><text y="-3">(18,2<tspan x="0" y="9">)74</tspan></text></g><g id="n3-18-3" transform="translate(0 39.4)"><use href="#h"/><text y="-3">(18,3<tspan x="0" y="9">)75</tspan></text></g><use href="#o"/></g>
</g>
<g id="tile4" class="b" transform="translate(604.8 815.2)">
<g id="g4-0"><g id="n4-0-0"><use href="#h"/><text y="-3">(0,0)<tspan x="0" y="9">0</tspan></text></g><g id="n4-0-1" transform="translate(31.7 19.7)"><use href="#h"/><text y="-3">(0,1)<tspan x="0" y="9">1</tspan></text></g><g id="n4-0-2" transform="translate(31.7 59.1)"><use href="#h"/><text y="-3">(0,2)<tspan x="0" y="9">2</tspan></text></g><g id="n4-0-3" transform="translate(0 39.4)"><use href="#h"/><text y="-3">(0,3)<tspan x="0" y="9">3</tspan></text></g><use href="#o"/></g>
<g id="g4-1" transform="translate(0 -78.8)"><g id="n4-1-0"><use href="#h"/><text y="-3">(1,0)<tspan x="0" y="9">4</tspan></text></g><g id="n4-1-1" transform="translate(31.7 19.7)"><use href="#h"/><text y="-3">(1,1)<tspan x="0" y="9">5</tspan></text></g><g id="n4-1-2" transform="translate(31.7 59.1)"><use href="#h"/><text y="-3">(1,2)<tspan x="0" y="9">6</tspan></text></g><g id="n4-1-3" transform="translate(0 39.4)"><use href="#h"/><text y="-3">(1,3)<tspan x="0" y="9">7</tspan></text></g><use href="#o"/></g>
<g id="g4-2" transform="translate(63.4 -39.4)"><g id="n4-2-0"><use href="#h"/><text y="-3">(2,0)<tspan x="0" y="9">8</tspan></text></g><g id="n4-2-1" transform="translate(31.7 19.7)"><use href="#h"/><text y="-3">(2,1)<tspan x="0" y="9">9</tspan></text></g><g id="n4-2-2" transform="translate(31.7 59.1)"><use href="#h"/><text y="-3">(2,2)<tspan x="0" y="9">10</tspan></text></g><g id="n4-2-3" transform="translate(0 39.4)"><use href="#h"/><text y="-3">(2,3)<tspan x="0" y="9">11</tspan></text></g><use href="#o"/></g>
<g id="g4-3" transform="translate(63.4 39.4)"><g id="n4-3-0"><use href="#h"/><text y="-3">(3,0)<tspan x="0" y="9">12</tspan></text></g><g id="n4-3-1" transform="translate(31.7 19.7)"><use href="#h"/><text y="-3">(3,1)<tspan x="0" y="9">13</tspan></text></g><g id="n4-3-2" transform="translate(31.7 59.1)"><use href="#h"/><text y="-3">(3,2)<tspan x="0" y="9">14</tspan></text></g><g id="n4-3-3" transform="translate(0 39.4)"><use href="#h"/><text y="-3">(3,3)<tspan x="0" y="9">15</tspan></text></g><use href="#o"/></g>
<g id="g4-4" transform="translate(0 78.8)"><g id="n4-4-0"><use href="#h"/><text y="-3">(4,0)<tspan x="0" y="9">16</tspan></text></g><g id="n4-4-1" transform="translate(31.7 19.7)"><use href="#h"/><text y="-3">(4,1)<tspan x="0" y="9">17</tspan></text></g><g id="n4-4-2" transform="translate(31.7 59.1)"><use href="#h"/><text y="-3">(4,2)<tspan x="0" y="9">18</tspan></text></g><g id="n4-4-3" transform="translate(0 39.4)"><use href="#h"/><text y="-3">(4,3)<tspan x="0" y="9">19</tspan></text></g><use href="#o"/></g>
<g id="g4-5" transform="translate(-63.4 39.4)"><g id="n4-5-0"><use href="#h"/><text y="-3">(5,0)<tspan x="0" y="9">20</tspan></text></g><g id="n4-5-1" transform="translate(31.7 19.7)"><use href="#h"/><text y="-3">(5,1)<tspan x="0" y="9">21</tspan></text></g><g id="n4-5-2" transform="translate(31.7 59.1)"><use href="#h"/><text y="-3">(5,2)<tspan x="0" y="9">22</tspan></text></g><g id="n4-5-3" transform="translate(0 39.4)"><use href="#h"/><text y="-3">(5,3)<tspan x="0" y="9">23</tspan></text></g><use href="#o"/></g>
<g id="g4-6" transform="translate(-63.4 -39.4)"><g id="n4-6-0"><use href="#h"/><text y="-3">(6,0)<tspan x="0" y="9">24</tspan></text></g><g id="n4-6-1" transform="translate(31.7 19.7)"><use href="#h"/><text y="-3">(6,1)<tspan x="0" y="9">25</tspan></text></g><g id="n4-6-2" transform="translate(31.7 59.1)"><use href="#h"/><text y="-3">(6,2)<tspan x="0" y="9">26</tspan></text></g><g id="n4-6-3" transform="translate(0 39.4)"><use href="#h"/><text y="-3">(6,3)<tspan x="0" y="9">27</tspan></text></g><use href="#o"/></g>
<g id="g4-7" transform="translate(0 -157.6)"><g id="n4-7-0"><use href="#h"/><text y="-3">(7,0)<tspan x="0" y="9">28</tspan></text></g><g id="n4-7-1" transform="translate(31.7 19.7)"><use href="#h"/><text y="-3">(7,1)<tspan x="0" y="9">29</tspan></text></g><g id="n4-7-2" transform="translate(31.7 59.1)"><use href="#h"/><text y="-3">(7,2)<tspan x="0" y="9">30</tspan></text></g><g id="n4-7-3" transform="translate(0 39.4)"><use href="#h"/><text y="-3">(7,3)<tspan x="0" y="9">31</tspan></text></g><use href="#o"/></g>
<g id="g4-8" transform="translate(63.4 -118.2)"><g id="n4-8-0"><use href="#h"/><text y="-3">(8,0)<tspan x="0" y="9">32</tspan></text></g><g id="n4-8-1" transform="translate(31.7 19.7)"><use href="#h"/><text y="-3">(8,1)<tspan x="0" y="9">33</tspan></text></g><g id="n4-8-2" transform="translate(31.7 59.1)"><use href="#h"/><text y="-3">(8,2)<tspan x="0" y="9">34</tspan></text></g><g id="n4-8-3" transform="translate(0 39.4)"><use href="#h"/><text y="-3">(8,3)<tspan x="0" y="9">35</tspan></text></g><use href="#o"/></g>
<g id="g4-9" transform="translate(126.8 -78.8)"><g id="n4-9-0"><use href="#h"/><text y="-3">(9,0)<tspan x="0" y="9">36</tspan></text></g><g id="n4-9-1" transform="translate(31.7 19.7)"><use href="#h"/><text y="-3">(9,1)<tspan x="0" y="9">37</tspan></text></g><g id="n4-9-2" transform="translate(31.7 59.1)"><use href="#h"/><text y="-3">(9,2)<tspan x="0" y="9">38</tspan></text></g><g id="n4-9-3" transform="translate(0 39.4)"><use href="#h"/><text y="-3">(9,3)<tspan x="0" y="9">39</tspan></text></g><use href="#o"/></g>
<g id="g4-10" transform="translate(126.8 0)"><g id="n4-10-0"><use href="#h"/><text y="-3">(10,0<tspan x="0" y="9">)40</tspan></text></g><g id="n4-10-1" transform="translate(31.7 19.7)"><use href="#h"/><text y="-3">(10,1<tspan x="0" y="9">)41</tspan></text></g><g id="n4-10-2" transform="translate(31.7 59.1)"><use href="#h"/><text y="-3">(10,2<tspan x="0" y="9">)42</tspan></text></g><g id="n4-10-3" transform="translate(0 39.4)"><use href="#h"/><text y="-3">(10,3<tspan x="0" y="9">)43</tspan></text></g><use href="#o"/></g>
<g id="g4-11" transform="translate(126.8 78.8)"><g id="n4-11-0"><use href="#h"/><text y="-3">(11,0<tspan x="0" y="9">)44</tspan></text></g><g id="n4-11-1" transform="translate(31.7 19.7)"><use href="#h"/><text y="-3">(11,1<tspan x="0" y="9">)45</tspan></text></g><g id="n4-11-2" transform="translate(31.7 59.1)"><use href="#h"/><text y="-3">(11,2<tspan x="0" y="9">)46</tspan></text></g><g id="n4-11-3" transform="translate(0 39.4)"><use href="#h"/><text y="-3">(11,3<tspan x="0" y="9">)47</tspan></text></g><use href="#o"/></g>
<g id="g4-12" transform="translate(63.4 118.2)"><g id="n4-12-0"><use href="#h"/><text y="-3">(12,0<tspan x="0" y="9">)48</tspan></text></g><g id="n4-12-1" transform="translate(31.7 19.7)"><use href="#h"/><text y="-3">(12,1<tspan x="0" y="9">)49</tspan></text></g><g id="n4-12-2" transform="translate(31.7 59.1)"><use href="#h"/><text y="-3">(12,2<tspan x="0" y="9">)50</tspan></text></g><g id="n4-12-3" transform="translate(0 39.4)"><use href="#h"/><text y="-3">(12,3<tspan x="0" y="9">)51</tspan></text></g><use href="#o"/></g>
<g id="g4-13" transform="translate(0 157.6)"><g id="n4-13-0"><use href="#h"/><text y="-3">(13,0<tspan x="0" y="9">)52</tspan></text></g><g id="n4-13-1" transform="translate(31.7 19.7)"><use href="#h"/><text y="-3">(13,1<tspan x="0" y="9">)53</tspan></text></g><g id="n4-13-2" transform="translate(31.7 59.1)"><use href="#h"/><text y="-3">(13,2<tspan x="0" y="9">)54</tspan></text></g><g id="n4-13-3" transform="translate(0 39.4)"><use href="#h"/><text y="-3">(13,3<tspan x="0" y="9">)55</tspan></text></g><use href="#o"/></g>
<g id="g4-14" transform="translate(-63.4 118.2)"><g id="n4-14-0"><use href="#h"/><text y="-3">(14,0<tspan x="0" y="9">)56</tspan></text></g><g id="n4-14-1" transform="translate(31.7 19.7)"><use href="#h"/><text y="-3">(14,1<tspan x="0" y="9">)57</tspan></text></g><g id="n4-14-2" transform="translate(31.7 59.1)"><use href="#h"/><text y="-3">(14,2<tspan x="0" y="9">)58</tspan></text></g><g id="n4-14-3" transform="translate(0 39.4)"><use href="#h"/><text y="-3">(14,3<tspan x="0" y="9">)59</tspan></text></g><use href="#o"/></g>
<g id="g4-15" transform="translate(-126.8 78.8)"><g id="n4-15-0"><use href="#h"/><text y="-3">(15,0<tspan x="0" y="9">)60</tspan></text></g><g id="n4-15-1" transform="translate(31.7 19.7)"><use href="#h"/><text y="-3">(15,1<tspan x="0" y="9">)61</tspan></text></g><g id="n4-15-2" transform="translate(31.7 59.1)"><use href="#h"/><text y="-3">(15,2<tspan x="0" y="9">)62</tspan></text></g><g id="n4-15-3" transform="translate(0 39.4)"><use href="#h"/><text y="-3">(15,3<tspan x="0" y="9">)63</tspan></text></g><use href="#o"/></g>
<g id="g4-16" transform="translate(-126.8 0)"><g id="n4-16-0"><use href="#h"/><text y="-3">(16,0<tspan x="0" y="9">)64</tspan></text></g><g id="n4-16-1" transform="translate(31.7 19.7)"><use href="#h"/><text y="-3">(16,1<tspan x="0" y="9">)65</tspan></text></g><g id="n4-16-2" transform="translate(31.7 59.1)"><use href="#h"/><text y="-3">(16,2<tspan x="0" y="9">)66</tspan></text></g><g id="n4-16-3" transform="translate(0 39.4)"><use href="#h"/><text y="-3">(16,3<tspan x="0" y="9">)67</tspan></text></g><use href="#o"/></g>
<g id="g4-17" transform="translate(-126.8 -78.8)"><g id="n4-17-0"><use href="#h"/><text y="-3">(17,0<tspan x="0" y="9">)68</tspan></text></g><g id="n4-17-1" transform="translate(31.7 19.7)"><use href="#h"/><text y="-3">(17,1<tspan x="0" y="9">)69</tspan></text></g><g id="n4-17-2" transform="translate(31.7 59.1)"><use href="#h"/><text y="-3">(17,2<tspan x="0" y="9">)70</tspan></text></g><g id="n4-17-3" transform="translate(0 39.4)"><use href="#h"/><text y="-3">(17,3<tspan x="0" y="9">)71</tspan></text></g><use href="#o"/></g>
<g id="g4-18" transform="translate(-63.4 -118.2)"><g id="n4-18-0"><use href="#h"/><text y="-3">(18,0<tspan x="0" y="9">)72</tspan></text></g><g id="n4-18-1" transform="translate(31.7 19.7)"><use href="#h"/><text y="-3">(18,1<tspan x="0" y="9">)73</tspan></text></g><g id="n4-18-2" transform="translate(31.7 59.1)"><use href="#h"/><text y="-3">(18,2<tspan x="0" y="9">)74</tspan></text></g><g id="n4-18-3" transform="translate(0 39.4)"><use href="#h"/><text y="-3">(18,3<tspan x="0" y="9">)75</tspan></text></g><use href="#o"/></g>
</g>
<g id="tile5" class="b" transform="translate(287.8 775.8)">
<g id="g5-0"><g id="n5-0-0"><use href="#h"/><text y="-3">(0,0)<tspan x="0" y="9">0</tspan></text></g><g id="n5-0-1" transform="translate(31.7 19.7)"><use href="#h"/><text y="-3">(0,1)<tspan x="0" y="9">1</tspan></text></g><g id="n5-0-2" transform="translate(31.7 59.1)"><use href="#h"/><text y="-3">(0,2)<tspan x="0" y="9">2</tspan></text></g><g id="n5-0-3" transform="translate(0 39.4)"><use href="#h"/><text y="-3">(0,3)<tspan x="0" y="9">3</tspan></text></g><use href="#o"/></g>
<g id="g5-1" transform="translate(0 -78.8)"><g id="n5-1-0"><use href="#h"/><text y="-3">(1,0)<tspan x="0" y="9">4</tspan></text></g><g id="n5-1-1" transform="translate(31.7 19.7)"><use href="#h"/><text y="-3">(1,1)<tspan x="0" y="9">5</tspan></text></g><g id="n5-1-2" transform="translate(31.7 59.1)"><use href="#h"/><text y="-3">(1,2)<tspan x="0" y="9">6</tspan></text></g><g id="n5-1-3" transform="translate(0 39.4)"><use href="#h"/><text y="-3">(1,3)<tspan x="0" y="9">7</tspan></text></g><use href="#o"/></g>
<g id="g5-2" transform="translate(63.4 -39.4)"><g id="n5-2-0"><use href="#h"/><text y="-3">(2,0)<tspan x="0" y="9">8</tspan></text></g><g id="n5-2-1" transform="translate(31.7 19.7)"><use href="#h"/><text y="-3">(2,1)<tspan x="0" y="9">9</tspan></text></g><g id="n5-2-2" transform="translate(31.7 59.1)"><use href="#h"/><text y="-3">(2,2)<tspan x="0" y="9">10</tspan></text></g><g id="n5-2-3" transform="translate(0 39.4)"><use href="#h"/><text y="-3">(2,3)<tspan x="0" y="9">11</tspan></text></g><use href="#o"/></g>
<g id="g5-3" transform="translate(63.4 39.4)"><g id="n5-3-0"><use href="#h"/><text y="-3">(3,0)<tspan x="0" y="9">12</tspan></text></g><g id="n5-3-1" transform="translate(31.7 19.7)"><use href="#h"/><text y="-3">(3,1)<tspan x="0" y="9">13</tspan></text></g><g id="n5-3-2" transform="translate(31.7 59.1)"><use href="#h"/><text y="-3">(3,2)<tspan x="0" y="9">14</tspan></text></g><g id="n5-3-3" transform="translate(0 39.4)"><use href="#h"/><text y="-3">(3,3)<tspan x="0" y="9">15</tspan></text></g><use href="#o"/></g>
<g id="g5-4" transform="translate(0 78.8)"><g id="n5-4-0"><use href="#h"/><text y="-3">(4,0)<tspan x="0" y="9">16</tspan></text></g><g id="n5-4-1" transform="translate(31.7 19.7)"><use href="#h"/><text y="-3">(4,1)<tspan x="0" y="9">17</tspan></text></g><g id="n5-4-2" transform="translate(31.7 59.1)"><use href="#h"/><text y="-3">(4,2)<tspan x="0" y="9">18</tspan></text></g><g id="n5-4-3" transform="translate(0 39.4)"><use href="#h"/><text y="-3">(4,3)<tspan x="0" y="9">19</tspan></text></g><use href="#o"/></g>
<g id="g5-5" transform="translate(-63.4 39.4)"><g id="n5-5-0"><use href="#h"/><text y="-3">(5,0)<tspan x="0" y="9">20</tspan></text></g><g id="n5-5-1" transform="translate(31.7 19.7)"><use href="#h"/><text y="-3">(5,1)<tspan x="0" y="9">21</tspan></text></g><g id="n5-5-2" transform="translate(31.7 59.1)"><use href="#h"/><text y="-3">(5,2)<tspan x="0" y="9">22</tspan></text></g><g id="n5-5-3" transform="translate(0 39.4)"><use href="#h"/><text y="-3">(5,3)<tspan x="0" y="9">23</tspan></text></g><use href="#o"/></g>
<g id="g5-6" transform="translate(-63.4 -39.4)"><g id="n5-6-0"><use href="#h"/><text y="-3">(6,0)<tspan x="0" y="9">24</tspan></text></g><g id="n5-6-1" transform="translate(31.7 19.7)"><use href="#h"/><text y="-3">(6,1)<tspan x="0" y="9">25</tspan></text></g><g id="n5-6-2" transform="translate(31.7 59.1)"><use href="#h"/><text y="-3">(6,2)<tspan x="0" y="9">26</tspan></text></g><g id="n5-6-3" transform="translate(0 39.4)"><use href="#h"/><text y="-3">(6,3)<tspan x="0" y="9">27</tspan></text></g><use href="#o"/></g>
<g id="g5-7" transform="translate(0 -157.6)"><g id="n5-7-0"><use href="#h"/><text y="-3">(7,0)<tspan x="0" y="9">28</tspan></text></g><g id="n5-7-1" transform="translate(31.7 19.7)"><use href="#h"/><text y="-3">(7,1)<tspan x="0" y="9">29</tspan></text></g><g id="n5-7-2" transform="translate(31.7 59.1)"><use href="#h"/><text y="-3">(7,2)<tspan x="0" y="9">30</tspan></text></g><g id="n5-7-3" transform="translate(0 39.4)"><use href="#h"/><text y="-3">(7,3)<tspan x="0" y="9">31</tspan></text></g><use href="#o"/></g>
<g id="g5-8" transform="translate(63.4 -118.2)"><g id="n5-8-0"><use href="#h"/><text y="-3">(8,0)<tspan x="0" y="9">32</tspan></text></g><g id="n5-8-1" transform="translate(31.7 19.7)"><use href="#h"/><text y="-3">(8,1)<tspan x="0" y="9">33</tspan></text></g><g id="n5-8-2" transform="translate(31.7 59.1)"><use href="#h"/><text y="-3">(8,2)<tspan x="0" y="9">34</tspan></text></g><g id="n5-8-3" transform="translate(0 39.4)"><use href="#h"/><text y="-3">(8,3)<tspan x="0" y="9">35</tspan></text></g><use href="#o"/></g>
<g id="g5-9" transform="translate(126.8 -78.8)"><g id="n5-9-0"><use href="#h"/><text y="-3">(9,0)<tspan x="0" y="9">36</tspan></text></g><g id="n5-9-1" transform="translate(31.7 19.7)"><use href="#h"/><text y="-3">(9,1)<tspan x="0" y="9">37</tspan></text></g><g id="n5-9-2" transform="translate(31.7 59.1)"><use href="#h"/><text y="-3">(9,2)<tspan x="0" y="9">38</tspan></text></g><g id="n5-9-3" transform="translate(0 39.4)"><use href="#h"/><text y="-3">(9,3)<tspan x="0" y="9">39</tspan></text></g><use href="#o"/></g>
<g id="g5-10" transform="translate(126.8 0)"><g id="n5-10-0"><use href="#h"/><text y="-3">(10,0<tspan x="0" y="9">)40</tspan></text></g><g id="n5-10-1" transform="translate(31.7 19.7)"><use href="#h"/><text y="-3">(10,1<tspan x="0" y="9">)41</tspan></text></g><g id="n5-10-2" transform="translate(31.7 59.1)"><use href="#h"/><text y="-3">(10,2<tspan x="0" y="9">)42</tspan></text></g><g id="n5-10-3" transform="translate(0 39.4)"><use href="#h"/><text y="-3">(10,3<tspan x="0" y="9">)43</tspan></text></g><use href="#o"/></g>
<g id="g5-11" transform="translate(126.8 78.8)"><g id="n5-11-0"><use href="#h"/><text y="-3">(11,0<tspan x="0" y="9">)44</tspan></text></g><g id="n5-11-1" transform="translate(31.7 19.7)"><use href="#h"/><text y="-3">(11,1<tspan x="0" y="9">)45</tspan></text></g><g id="n5-11-2" transform="translate(31.7 59.1)"><use href="#h"/><text y="-3">(11,2<tspan x="0" y="9">)46</tspan></text></g><g id="n5-11-3" transform="translate(0 39.4)"><use href="#h"/><text y="-3">(11,3<tspan x="0" y="9">)47</tspan></text></g><use href="#o"/></g>
<g id="g5-12" transform="translate(63.4 118.2)"><g id="n5-12-0"><use href="#h"/><text y="-3">(12,0<tspan x="0" y="9">)48</tspan></text></g><g id="n5-12-1" transform="translate(31.7 19.7)"><use href="#h"/><text y="-3">(12,1<tspan x="0" y="9">)49</tspan></text></g><g id="n5-12-2" transform="translate(31.7 59.1)"><use href="#h"/><text y="-3">(12,2<tspan x="0" y="9">)50</tspan></text></g><g id="n5-12-3" transform="translate(0 39.4)"><use href="#h"/><text y="-3">(12,3<tspan x="0" y="9">)51</tspan></text></g><use href="#o"/></g>
<g id="g5-13" transform="translate(0 157.6)"><g id="n5-13-0"><use href="#h"/><text y="-3">(13,0<tspan x="0" y="9">)52</tspan></text></g><g id="n5-13-1" transform="translate(31.7 19.7)"><use href="#h"/><text y="-3">(13,1<tspan x="0" y="9">)53</tspan></text></g><g id="n5-13-2" transform="translate(31.7 59.1)"><use href="#h"/><text y="-3">(13,2<tspan x="0" y="9">)54</tspan></text></g><g id="n5-13-3" transform="translate(0 39.4)"><use href="#h"/><text y="-3">(13,3<tspan x="0" y="9">)55</tspan></text></g><use href="#o"/></g>
<g id="g5-14" transform="translate(-63.4 118.2)"><g id="n5-14-0"><use href="#h"/><text y="-3">(14,0<tspan x="0" y="9">)56</tspan></text></g><g id="n5-14-1" transform="translate(31.7 19.7)"><use href="#h"/><text y="-3">(14,1<tspan x="0" y="9">)57</tspan></text></g><g id="n5-14-2" transform="translate(31.7 59.1)"><use href="#h"/><text y="-3">(14,2<tspan x="0" y="9">)58</tspan></text></g><g id="n5-14-3" transform="translate(0 39.4)"><use href="#h"/><text y="-3">(14,3<tspan x="0" y="9">)59</tspan></text></g><use href="#o"/></g>
<g id="g5-15" transform="translate(-126.8 78.8)"><g id="n5-15-0"><use href="#h"/><text y="-3">(15,0<tspan x="0" y="9">)60</tspan></text></g><g id="n5-15-1" transform="translate(31.7 19.7)"><use href="#h"/><text y="-3">(15,1<tspan x="0" y="9">)61</tspan></text></g><g id="n5-15-2" transform="translate(31.7 59.1)"><use href="#h"/><text y="-3">(15,2<tspan x="0" y="9">)62</tspan></text></g><g id="n5-15-3" transform="translate(0 39.4)"><use href="#h"/><text y="-3">(15,3<tspan x="0" y="9">)63</tspan></text></g><use href="#o"/></g>
<g id="g5-16" transform="translate(-126.8 0)"><g id="n5-16-0"><use href="#h"/><text y="-3">(16,0<tspan x="0" y="9">)64</tspan></text></g><g id="n5-16-1" transform="translate(31.7 19.7)"><use href="#h"/><text y="-3">(16,1<tspan x="0" y="9">)65</tspan></text></g><g id="n5-16-2" transform="translate(31.7 59.1)"><use href="#h"/><text y="-3">(16,2<tspan x="0" y="9">)66</tspan></text></g><g id="n5-16-3" transform="translate(0 39.4)"><use href="#h"/><text y="-3">(16,3<tspan x="0" y="9">)67</tspan></text></g><use href="#o"/></g>
<g id="g5-17" transform="translate(-126.8 -78.8)"><g id="n5-17-0"><use href="#h"/><text y="-3">(17,0<tspan x="0" y="9">)68</tspan></text></g><g id="n5-17-1" transform="translate(31.7 19.7)"><use href="#h"/><text y="-3">(17,1<tspan x="0" y="9">)69</tspan></text></g><g id="n5-17-2" transform="translate(31.7 59.1)"><use href="#h"/><text y="-3">(17,2<tspan x="0" y="9">)70</tspan></text></g><g id="n5-17-3" transform="translate(0 39.4)"><use href="#h"/><text y="-3">(17,3<tspan x="0" y="9">)71</tspan></text></g><use href="#o"/></g>
<g id="g5-18" transform="translate(-63.4 -118.2)"><g id="n5-18-0"><use href="#h"/><text y="-3">(18,0<tspan x="0" y="9">)72</tspan></text></g><g id="n5-18-1" transform="translate(31.7 19.7)"><use href="#h"/><text y="-3">(18,1<tspan x="0" y="9">)73</tspan></text></g><g id="n5-18-2" transform="translate(31.7 59.1)"><use href="#h"/><text y="-3">(18,2<tspan x="0" y="9">)74</tspan></text></g><g id="n5-18-3" transform="translate(0 39.4)"><use href="#h"/><text y="-3">(18,3<tspan x="0" y="9">)75</tspan></text></g><use href="#o"/></g>
</g>
<g id="tile6" class="b" transform="translate(161 460.6)">
<g id="g6-0"><g id="n6-0-0"><use href="#h"/><text y="-3">(0,0)<tspan x="0" y="9">0</tspan></text></g><g id="n6-0-1" transform="translate(31.7 19.7)"><use href="#h"/><text y="-3">(0,1)<tspan x="0" y="9">1</tspan></text></g><g id="n6-0-2" transform="translate(31.7 59.1)"><use href="#h"/><text y="-3">(0,2)<tspan x="0" y="9">2</tspan></text></g><g id="n6-0-3" transform="translate(0 39.4)"><use href="#h"/><text y="-3">(0,3)<tspan x="0" y="9">3</tspan></text></g><use href="#o"/></g>
<g id="g6-1" transform="translate(0 -78.8)"><g id="n6-1-0"><use href="#h"/><text y="-3">(1,0)<tspan x="0" y="9">4</tspan></text></g><g id="n6-1-1" transform="translate(31.7 19.7)"><use href="#h"/><text y="-3">(1,1)<tspan x="0" y="9">5</tspan></text></g><g id="n6-1-2" transform="translate(31.7 59.1)"><use href="#h"/><text y="-3">(1,2)<tspan x="0" y="9">6</tspan></text></g><g id="n6-1-3" transform="translate(0 39.4)"><use href="#h"/><text y="-3">(1,3)<tspan x="0" y="9">7</tspan></text></g><use href="#o"/></g>
<g id="g6-2" transform="translate(63.4 -39.4)"><g id="n6-2-0"><use href="#h"/><text y="-3">(2,0)<tspan x="0" y="9">8</tspan></text></g><g id="n6-2-1" transform="translate(31.7 19.7)"><use href="#h"/><text y="-3">(2,1)<tspan x="0" y="9">9</tspan></text></g><g id="n6-2-2" transform="translate(31.7 59.1)"><use href="#h"/><text y="-3">(2,2)<tspan x="0" y="9">10</tspan></text></g><g id="n6-2-3" transform="translate(0 39.4)"><use href="#h"/><text y="-3">(2,3)<tspan x="0" y="9">11</tspan></text></g><use href="#o"/></g>
<g id="g6-3" transform="translate(63.4 39.4)"><g id="n6-3-0"><use href="#h"/><text y="-3">(3,0)<tspan x="0" y="9">12</tspan></text></g><g id="n6-3-1" transform="translate(31.7 19.7)"><use href="#h"/><text y="-3">(3,1)<tspan x="0" y="9">13</tspan></text></g><g id="n6-3-2" transform="translate(31.7 59.1)"><use href="#h"/><text y="-3">(3,2)<tspan x="0" y="9">14</tspan></text></g><g id="n6-3-3" transform="translate(0 39.4)"><use href="#h"/><text y="-3">(3,3)<tspan x="0" y="9">15</tspan></text></g><use href="#o"/></g>
<g id="g6-4" transform="translate(0 78.8)"><g id="n6-4-0"><use href="#h"/><text y="-3">(4,0)<tspan x="0" y="9">16</tspan></text></g><g id="n6-4-1" transform="translate(31.7 19.7)"><use href="#h"/><text y="-3">(4,1)<tspan x="0" y="9">17</tspan></text></g><g id="n6-4-2" transform="translate(31.7 59.1)"><use href="#h"/><text y="-3">(4,2)<tspan x="0" y="9">18</tspan></text></g><g id="n6-4-3" transform="translate(0 39.4)"><use href="#h"/><text y="-3">(4,3)<tspan x="0" y="9">19</tspan></text></g><use href="#o"/></g>
<g id="g6-5" transform="translate(-63.4 39.4)"><g id="n6-5-0"><use href="#h"/><text y="-3">(5,0)<tspan x="0" y="9">20</tspan></text></g><g id="n6-5-1" transform="translate(31.7 19.7)"><use href="#h"/><text y="-3">(5,1)<tspan x="0" y="9">21</tspan></text></g><g id="n6-5-2" transform="translate(31.7 59.1)"><use href="#h"/><text y="-3">(5,2)<tspan x="0" y="9">22</tspan></text></g><g id="n6-5-3" transform="translate(0 39.4)"><use href="#h"/><text y="-3">(5,3)<tspan x="0" y="9">23</tspan></text></g><use href="#o"/></g>
<g id="g6-6" transform="translate(-63.4 -39.4)"><g id="n6-6-0"><use href="#h"/><text y="-3">(6,0)<tspan x="0" y="9">24</tspan></text></g><g id="n6-6-1" transform="translate(31.7 19.7)"><use href="#h"/><text y="-3">(6,1)<tspan x="0" y="9">25</tspan></text></g><g id="n6-6-2" transform="translate(31.7 59.1)"><use href="#h"/><text y="-3">(6,2)<tspan x="0" y="9">26</tspan></text></g><g id="n6-6-3" transform="translate(0 39.4)"><use href="#h"/><text y="-3">(6,3)<tspan x="0" y="9">27</tspan></text></g><use href="#o"/></g>
<g id="g6-7" transform="translate(0 -157.6)"><g id="n6-7-0"><use href="#h"/><text y="-3">(7,0)<tspan x="0" y="9">28</tspan></text></g><g id="n6-7-1" transform="translate(31.7 19.7)"><use href="#h"/><text y="-3">(7,1)<tspan x="0" y="9">29</tspan></text></g><g id="n6-7-2" transform="translate(31.7 59.1)"><use href="#h"/><text y="-3">(7,2)<tspan x="0" y="9">30</tspan></text></g><g id="n6-7-3" transform="translate(0 39.4)"><use href="#h"/><text y="-3">(7,3)<tspan x="0" y="9">31</tspan></text></g><use href="#o"/></g>
<g id="g6-8" transform="translate(63.4 -118.2)"><g id="n6-8-0"><use href="#h"/><text y="-3">(8,0)<tspan x="0" y="9">32</tspan></text></g><g id="n6-8-1" transform="translate(31.7 19.7)"><use href="#h"/><text y="-3">(8,1)<tspan x="0" y="9">33</tspan></text></g><g id="n6-8-2" transform="translate(31.7 59.1)"><use href="#h"/><text y="-3">(8,2)<tspan x="0" y="9">34</tspan></text></g><g id="n6-8-3" transform="translate(0 39.4)"><use href="#h"/><text y="-3">(8,3)<tspan x="0" y="9">35</tspan></text></g><use href="#o"/></g>
<g id="g6-9" transform="translate(126.8 -78.8)"><g id="n6-9-0"><use href="#h"/><text y="-3">(9,0)<tspan x="0" y="9">36</tspan></text></g><g id="n6-9-1" transform="translate(31.7 19.7)"><use href="#h"/><text y="-3">(9,1)<tspan x="0" y="9">37</tspan></text></g><g id="n6-9-2" transform="translate(31.7 59.1)"><use href="#h"/><text y="-3">(9,2)<tspan x="0" y="9">38</tspan></text></g><g id="n6-9-3" transform="translate(0 39.4)"><use href="#h"/><text y="-3">(9,3)<tspan x="0" y="9">39</tspan></text></g><use href="#o"/></g>
<g id="g6-10" transform="translate(126.8 0)"><g id="n6-10-0"><use href="#h"/><text y="-3">(10,0<tspan x="0" y="9">)40</tspan></text></g><g id="n6-10-1" transform="translate(31.7 19.7)"><use href="#h"/><text y="-3">(10,1<tspan x="0" y="9">)41</tspan></text></g><g id="n6-10-2" transform="translate(31.7 59.1)"><use href="#h"/><text y="-3">(10,2<tspan x="0" y="9">)42</tspan></text></g><g id="n6-10-3" transform="translate(0 39.4)"><use href="#h"/><text y="-3">(10,3<tspan x="0" y="9">)43</tspan></text></g><use href="#o"/></g>
<g id="g6-11" transform="translate(126.8 78.8)"><g id="n6-11-0"><use href="#h"/><text y="-3">(11,0<tspan x="0" y="9">)44</tspan></text></g><g id="n6-11-1" transform="translate(31.7 19.7)"><use href="#h"/><text y="-3">(11,1<tspan x="0" y="9">)45</tspan></text></g><g id="n6-11-2" transform="translate(31.7 59.1)"><use href="#h"/><text y="-3">(11,2<tspan x="0" y="9">)46</tspan></text></g><g id="n6-11-3" transform="translate(0 39.4)"><use href="#h"/><text y="-3">(11,3<tspan x="0" y="9">)47</tspan></text></g><use href="#o"/></g>
<g id="g6-12" transform="translate(63.4 118.2)"><g id="n6-12-0"><use href="#h"/><text y="-3">(12,0<tspan x="0" y="9">)48</tspan></text></g><g id="n6-12-1" transform="translate(31.7 19.7)"><use href="#h"/><text y="-3">(12,1<tspan x="0" y="9">)49</tspan></text></g><g id="n6-12-2" transform="translate(31.7 59.1)"><use href="#h"/><text y="-3">(12,2<tspan x="0" y="9">)50</tspan></text></g><g id="n6-12-3" transform="translate(0 39.4)"><use href="#h"/><text y="-3">(12,3<tspan x="0" y="9">)51</tspan></text></g><use href="#o"/></g>
<g id="g6-13" transform="translate(0 157.6)"><g id="n6-13-0"><use href="#h"/><text y="-3">(13,0<tspan x="0" y="9">)52</tspan></text></g><g id="n6-13-1" transform="translate(31.7 19.7)"><use href="#h"/><text y="-3">(13,1<tspan x="0" y="9">)53</tspan></text></g><g id="n6-13-2" transform="translate(31.7 59.1)"><use href="#h"/><text y="-3">(13,2<tspan x="0" y="9">)54</tspan></text></g><g id="n6-13-3" transform="translate(0 39.4)"><use href="#h"/><text y="-3">(13,3<tspan x="0" y="9">)55</tspan></text></g><use href="#o"/></g>
<g id="g6-14" transform="translate(-63.4 118.2)"><g id="n6-14-0"><use href="#h"/><text y="-3">(14,0<tspan x="0" y="9">)56</tspan></text></g><g id="n6-14-1" transform="translate(31.7 19.7)"><use href="#h"/><text y="-3">(14,1<tspan x="0" y="9">)57</tspan></text></g><g id="n6-14-2" transform="translate(31.7 59.1)"><use href="#h"/><text y="-3">(14,2<tspan x="0" y="9">)58</tspan></text></g><g id="n6-14-3" transform="translate(0 39.4)"><use href="#h"/><text y="-3">(14,3<tspan x="0" y="9">)59</tspan></text></g><use href="#o"/></g>
<g id="g6-15" transform="translate(-126.8 78.8)"><g id="n6-15-0"><use href="#h"/><text y="-3">(15,0<tspan x="0" y="9">)60</tspan></text></g><g id="n6-15-1" transform="translate(31.7 19.7)"><use href="#h"/><text y="-3">(15,1<tspan x="0" y="9">)61</tspan></text></g><g id="n6-15-2" transform="translate(31.7 59.1)"><use href="#h"/><text y="-3">(15,2<tspan x="0" y="9">)62</tspan></text></g><g id="n6-15-3" transform="translate(0 39.4)"><use href="#h"/><text y="-3">(15,3<tspan x="0" y="9">)63</tspan></text></g><use href="#o"/></g>
<g id="g6-16" transform="translate(-126.8 0)"><g id="n6-16-0"><use href="#h"/><text y="-3">(16,0<tspan x="0" y="9">)64</tspan></text></g><g id="n6-16-1" transform="translate(31.7 19.7)"><use href="#h"/><text y="-3">(16,1<tspan x="0" y="9">)65</tspan></text></g><g id="n6-16-2" transform="translate(31.7 59.1)"><use href="#h"/><text y="-3">(16,2<tspan x="0" y="9">)66</tspan></text></g><g id="n6-16-3" transform="translate(0 39.4)"><use href="#h"/><text y="-3">(16,3<tspan x="0" y="9">)67</tspan></text></g><use href="#o"/></g>
<g id="g6-17" transform="translate(-126.8 -78.8)"><g id="n6-17-0"><use href="#h"/><text y="-3">(17,0<tspan x="0" y="9">)68</tspan></text></g><g id="n6-17-1" transform="translate(31.7 19.7)"><use href="#h"/><text y="-3">(17,1<tspan x="0" y="9">)69</tspan></text></g><g id="n6-17-2" transform="translate(31.7 59.1)"><use href="#h"/><text y="-3">(17,2<tspan x="0" y="9">)70</tspan></text></g><g id="n6-17-3" transform="translate(0 39.4)"><use href="#h"/><text y="-3">(17,3<tspan x="0" y="9">)71</tspan></text></g><use href="#o"/></g>
<g id="g6-18" transform="translate(-63.4 -118.2)"><g id="n6-18-0"><use href="#h"/><text y="-3">(18,0<tspan x="0" y="9">)72</tspan></text></g><g id="n6-18-1" transform="translate(31.7 19.7)"><use href="#h"/><text y="-3">(18,1<tspan x="0" y="9">)73</tspan></text></g><g id="n6-18-2" transform="translate(31.7 59.1)"><use href="#h"/><text y="-3">(18,2<tspan x="0" y="9">)74</tspan></text></g><g id="n6-18-3" transform="translate(0 39.4)"><use href="#h"/><text y="-3">(18,3<tspan x="0" y="9">)75</tspan></text></g><use href="#o"/></g>
</g>
</svg>
